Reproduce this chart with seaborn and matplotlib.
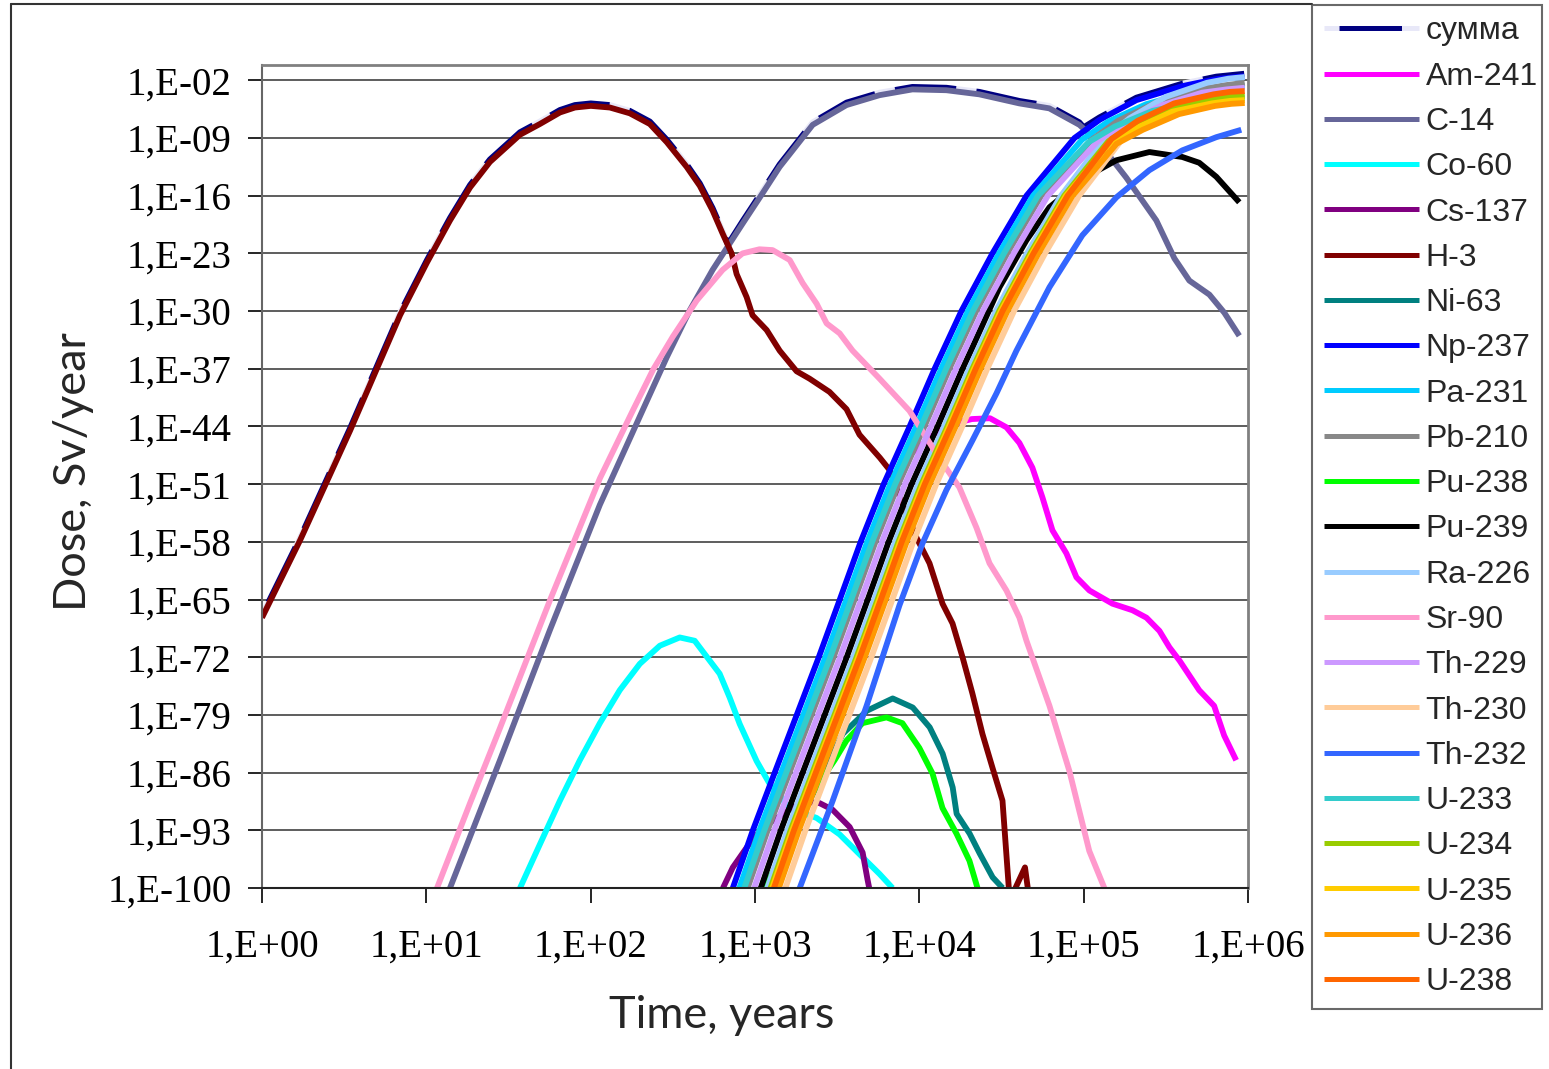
import numpy as np
import pandas as pd
import matplotlib

matplotlib.use("Agg")
import matplotlib.pyplot as plt
import seaborn as sns
from matplotlib.lines import Line2D
from matplotlib.ticker import FixedLocator, FuncFormatter, NullLocator

# values, as log10(time, years) and log10(dose, Sv/year)
sum_lt = [0.0, 0.232, 0.536, 0.84, 1.004, 1.144, 1.266, 1.387, 1.57, 1.691, 1.813, 1.904, 2.001, 2.117,
          2.238, 2.36, 2.463, 2.584, 2.664, 2.742, 2.803, 2.835, 2.924, 3.046, 3.15, 3.229, 3.351, 3.557,
          3.758, 3.958, 4.165, 4.365, 4.609, 4.791, 4.974, 5.0, 5.096, 5.321, 5.601, 5.807, 5.977]
sum_ld = [-66.9, -57.5, -44.2, -30.2, -23.8, -18.7, -14.7, -11.6, -8.3, -7.0, -5.6, -5.0, -4.8, -5.0,
          -5.7, -7.0, -9.2, -12.2, -14.5, -17.5, -20.3, -21.9, -19.1, -15.4, -12.2, -10.2, -7.1, -4.7,
          -3.5, -2.8, -2.9, -3.4, -4.5, -5.1, -7.1, -7.7, -6.5, -4.1, -2.4, -1.55, -1.2]

am241_lt = [2.915, 3.037, 3.17, 3.304, 3.438, 3.566, 3.693, 3.833, 3.95, 4.1, 4.22, 4.32, 4.43, 4.53,
            4.609, 4.688, 4.749, 4.81, 4.895, 4.956, 5.035, 5.175, 5.297, 5.382, 5.461, 5.522, 5.583,
            5.703, 5.794, 5.855, 5.928]
am241_ld = [-100, -93, -86, -79, -72, -65, -58, -51, -47.3, -44.8, -43.6, -43.1, -43.0, -44.1,
            -46.0, -49.0, -52.6, -56.6, -59.4, -62.3, -63.9, -65.5, -66.3, -67.2, -68.8, -70.8, -72.4,
            -76.0, -77.9, -81.5, -84.5]

c14_lt = [1.144, 1.448, 1.752, 2.056, 2.317, 2.463, 2.603, 2.742, 2.846, 2.924, 3.046, 3.15, 3.229,
          3.351, 3.557, 3.758, 3.958, 4.165, 4.365, 4.609, 4.791, 4.974, 5.095, 5.259, 5.442, 5.552,
          5.643, 5.765, 5.856, 5.947]
c14_ld = [-100, -84.5, -68.7, -53.5, -42.0, -35.6, -29.9, -25.0, -21.8, -19.4, -15.7, -12.5, -10.5,
          -7.4, -5.0, -3.8, -3.1, -3.2, -3.7, -4.8, -5.4, -7.4, -9.6, -13.8, -19.0, -23.6,
          -26.3, -28.0, -30.2, -33.0]

co60_lt = [1.57, 1.691, 1.813, 1.934, 2.056, 2.177, 2.299, 2.421, 2.542, 2.633, 2.724, 2.785, 2.846,
           2.907, 3.01, 3.09, 3.211, 3.375, 3.515, 3.636, 3.758, 3.837]
co60_ld = [-100, -94.7, -89.4, -84.5, -80.0, -76.0, -72.8, -70.6, -69.6, -70.0, -72.4, -74.0, -76.9,
           -80.1, -84.6, -87.4, -90.3, -91.5, -93.5, -95.9, -98.3, -100]

cs137_lt = [2.805, 2.865, 2.949, 3.046, 3.229, 3.332, 3.393, 3.472, 3.576, 3.655, 3.685, 3.70]
cs137_ld = [-100, -97.5, -95.1, -92.7, -90.2, -89.6, -89.7, -90.5, -92.6, -95.7, -99.0, -100.5]

h3_lt = [0.0, 0.232, 0.536, 0.84, 1.004, 1.144, 1.266, 1.387, 1.57, 1.691, 1.813, 1.904, 2.001, 2.117,
         2.238, 2.36, 2.463, 2.584, 2.664, 2.742, 2.803, 2.858, 2.888, 2.949, 2.985, 3.071, 3.15, 3.253,
         3.332, 3.453, 3.557, 3.636, 3.76, 3.82, 3.9, 3.983, 4.062, 4.141, 4.202, 4.263, 4.323, 4.384,
         4.445, 4.506, 4.55, 4.643, 4.67]
h3_ld = [-67.2, -57.8, -44.5, -30.5, -24.1, -19.0, -15.0, -11.9, -8.6, -7.3, -5.9, -5.3, -5.1, -5.3,
         -6.0, -7.3, -9.5, -12.5, -14.8, -17.8, -20.6, -23.0, -25.5, -28.3, -30.5, -32.3, -34.8, -37.3,
         -38.2, -39.8, -41.9, -45.0, -47.8, -49.3, -53.5, -57.5, -60.6, -65.5, -67.9, -72.0, -76.4, -81.3,
         -85.4, -89.4, -101.5, -97.5, -101.5]

ni63_lt = [3.09, 3.272, 3.424, 3.534, 3.68, 3.838, 3.96, 4.063, 4.142, 4.203, 4.227, 4.306, 4.367,
           4.446, 4.507]
ni63_ld = [-100, -91.8, -85.7, -81.3, -78.5, -77.0, -78.1, -80.5, -83.7, -87.8, -91.0, -93.4, -95.8,
           -98.7, -100]

pu238_lt = [3.058, 3.21, 3.362, 3.484, 3.557, 3.654, 3.8, 3.897, 4.0, 4.08, 4.141, 4.226, 4.305, 4.354]
pu238_ld = [-100, -94.2, -88.1, -84.5, -82.1, -80.0, -79.3, -80.0, -83.0, -86.1, -90.3, -93.4, -96.7, -100]

sr90_lt = [1.065, 1.266, 1.448, 1.752, 2.056, 2.258, 2.38, 2.5, 2.646, 2.803, 2.924, 3.027, 3.107,
           3.211, 3.29, 3.375, 3.436, 3.515, 3.594, 3.758, 3.94, 4.123, 4.244, 4.348, 4.427, 4.53,
           4.609, 4.652, 4.792, 4.913, 5.034, 5.126]
sr90_ld = [-100, -89.7, -80.6, -65.1, -50.3, -42.0, -37.1, -33.1, -28.7, -25.0, -23.0, -22.5, -22.6,
           -23.8, -26.6, -29.1, -31.5, -32.7, -34.8, -38.2, -42.1, -47.9, -51.4, -56.3, -60.6, -63.9,
           -67.2, -70.0, -77.9, -85.8, -95.5, -100]

pu239_lt = [3.035, 3.157, 3.29, 3.424, 3.558, 3.686, 3.813, 3.953, 4.111, 4.263, 4.323, 4.488, 4.652,
            4.792, 4.895, 5.053, 5.199, 5.4, 5.6, 5.703, 5.807, 5.947]
pu239_ld = [-100, -93, -86, -79, -72, -65, -58, -51, -44, -37, -34.4, -27.1, -21.4,
            -17.4, -15.7, -13.3, -11.7, -10.7, -11.3, -12.0, -13.7, -16.8]

th232_lt = [3.272, 3.473, 3.679, 3.879, 4.019, 4.165, 4.323, 4.469, 4.591, 4.792, 4.992, 5.199, 5.4,
            5.6, 5.807, 5.959]
th232_ld = [-100, -89.4, -77.9, -65.7, -58.2, -51.7, -45.7, -40.0, -34.8, -27.1, -20.8, -16.2, -12.9,
            -10.5, -8.9, -8.0]

# the actinide band: shared dose levels on the rising part, own levels near the top
band_ld = [-100, -93, -86, -79, -72, -65, -58, -51, -44, -37, -30, -23, -16]
np237_lt = [2.865, 2.987, 3.120, 3.254, 3.388, 3.516, 3.643, 3.783, 3.941, 4.093, 4.256, 4.445, 4.652,
            4.944, 5.096, 5.321, 5.601, 5.807, 5.977]
np237_top = [-9, -6.8, -4.4, -2.7, -1.85, -1.5]
pa231_lt = [2.905, 3.027, 3.160, 3.294, 3.428, 3.556, 3.683, 3.823, 3.981, 4.133, 4.296, 4.485, 4.692,
            4.99, 5.15, 5.38, 5.65, 5.84, 5.98]
pa231_top = [-9.2, -7.0, -4.9, -3.4, -2.9, -2.7]
pb210_lt = [2.955, 3.077, 3.21, 3.344, 3.478, 3.606, 3.733, 3.873, 4.031, 4.183, 4.346, 4.535, 4.742,
            5.05, 5.21, 5.44, 5.70, 5.86, 5.98]
pb210_top = [-9.2, -6.9, -4.7, -3.1, -2.6, -2.3]
ra226_lt = [3.075, 3.197, 3.33, 3.464, 3.598, 3.726, 3.853, 3.993, 4.151, 4.303, 4.466, 4.655, 4.862,
            5.13, 5.28, 5.5, 5.75, 5.88, 5.98]
ra226_top = [-9.0, -6.6, -4.0, -2.3, -1.8, -1.6]
th229_lt = [2.995, 3.117, 3.25, 3.384, 3.518, 3.646, 3.773, 3.913, 4.071, 4.223, 4.386, 4.575, 4.782,
            5.09, 5.25, 5.48, 5.72, 5.87, 5.98]
th229_top = [-9.3, -7.2, -5.0, -3.5, -3.1, -2.9]
th230_lt = [3.185, 3.307, 3.44, 3.574, 3.708, 3.836, 3.963, 4.103, 4.261, 4.413, 4.576, 4.765, 4.972,
            5.24, 5.4, 5.62, 5.83, 5.92, 5.98]
th230_top = [-9.0, -7.0, -4.9, -4.0, -3.8, -3.7]
u233_lt = [2.935, 3.057, 3.19, 3.324, 3.458, 3.586, 3.713, 3.853, 4.011, 4.163, 4.326, 4.515, 4.722,
           5.03, 5.19, 5.42, 5.68, 5.85, 5.98]
u233_top = [-9.5, -7.6, -5.7, -4.6, -4.3, -4.15]
u234_lt = [3.095, 3.217, 3.35, 3.484, 3.618, 3.746, 3.873, 4.013, 4.171, 4.323, 4.486, 4.675, 4.882,
           5.15, 5.31, 5.53, 5.77, 5.88, 5.98]
u234_top = [-9.4, -7.4, -5.4, -4.3, -4.0, -3.9]
u235_lt = [3.105, 3.227, 3.36, 3.494, 3.628, 3.756, 3.883, 4.023, 4.181, 4.333, 4.496, 4.685, 4.892,
           5.16, 5.32, 5.54, 5.78, 5.89, 5.98]
u235_top = [-9.6, -7.8, -5.8, -4.8, -4.5, -4.4]
u236_lt = [3.145, 3.267, 3.4, 3.534, 3.668, 3.796, 3.923, 4.063, 4.221, 4.373, 4.536, 4.725, 4.932,
           5.2, 5.36, 5.58, 5.8, 5.9, 5.98]
u236_top = [-9.7, -8.0, -6.1, -5.1, -4.85, -4.75]
u238_lt = [3.115, 3.237, 3.37, 3.504, 3.638, 3.766, 3.893, 4.033, 4.191, 4.343, 4.506, 4.695, 4.902,
           5.17, 5.33, 5.55, 5.79, 5.89, 5.98]
u238_top = [-9.1, -6.9, -4.8, -3.7, -3.4, -3.3]

series = [
    ("сумма", sum_lt, sum_ld, "#000080"),
    ("Am-241", am241_lt, am241_ld, "#FF00FF"),
    ("C-14", c14_lt, c14_ld, "#666699"),
    ("Co-60", co60_lt, co60_ld, "#00FFFF"),
    ("Cs-137", cs137_lt, cs137_ld, "#800080"),
    ("H-3", h3_lt, h3_ld, "#800000"),
    ("Ni-63", ni63_lt, ni63_ld, "#008080"),
    ("Np-237", np237_lt, band_ld + np237_top, "#0000FF"),
    ("Pa-231", pa231_lt, band_ld + pa231_top, "#00CCFF"),
    ("Pb-210", pb210_lt, band_ld + pb210_top, "#888888"),
    ("Pu-238", pu238_lt, pu238_ld, "#00FF00"),
    ("Pu-239", pu239_lt, pu239_ld, "#000000"),
    ("Ra-226", ra226_lt, band_ld + ra226_top, "#99CCFF"),
    ("Sr-90", sr90_lt, sr90_ld, "#FF99CC"),
    ("Th-229", th229_lt, band_ld + th229_top, "#CC99FF"),
    ("Th-230", th230_lt, band_ld + th230_top, "#FFCC99"),
    ("Th-232", th232_lt, th232_ld, "#3366FF"),
    ("U-233", u233_lt, band_ld + u233_top, "#33CCCC"),
    ("U-234", u234_lt, band_ld + u234_top, "#99CC00"),
    ("U-235", u235_lt, band_ld + u235_top, "#FFCC00"),
    ("U-236", u236_lt, band_ld + u236_top, "#FF9900"),
    ("U-238", u238_lt, band_ld + u238_top, "#FF6600"),
]

y_tick_exp = list(range(-2, -101, -7))
x_tick_exp = [0, 1, 2, 3, 4, 5, 6]

frames = []
for name, lt, ld, _ in series:
    frames.append(pd.DataFrame({
        "series": name,
        "time": 10.0 ** np.asarray(lt, dtype=float),
        "dose": 10.0 ** np.asarray(ld, dtype=float),
    }))
df = pd.concat(frames, ignore_index=True)
names = [s[0] for s in series]
palette = {s[0]: s[3] for s in series}

sns.set_theme(style="white")
plt.rcParams["font.family"] = ["Liberation Serif", "DejaVu Serif"]

W, H = 1549, 1069
fig = plt.figure(figsize=(W / 100, H / 100), dpi=100)
ax = fig.add_axes([262 / W, 1 - 888 / H, (1248 - 262) / W, (888 - 65) / H])

lw = 4.2
sum_dash = (11.5, (10.5, 3.5))
sns.lineplot(data=df[df["series"] == "сумма"], x="time", y="dose", color="#000080",
             estimator=None, sort=False, linewidth=lw, legend=False, ax=ax)
sum_line = ax.lines[-1]
sum_line.set_linestyle(sum_dash)
sum_line.set_gapcolor("#E8E8F8")
sns.lineplot(data=df[df["series"] != "сумма"], x="time", y="dose", hue="series",
             hue_order=names[1:], palette=palette, estimator=None, sort=False,
             linewidth=lw, legend=False, ax=ax)
for ln in ax.lines:
    ln.set_solid_capstyle("butt")
    ln.set_solid_joinstyle("round")

ax.set_xscale("log")
ax.set_yscale("log")
ax.set_xlim(1, 1e6)
ax.set_ylim(1e-100, 10 ** -0.14)
ax.xaxis.set_major_locator(FixedLocator([10.0 ** e for e in x_tick_exp]))
ax.yaxis.set_major_locator(FixedLocator([10.0 ** e for e in y_tick_exp]))
ax.xaxis.set_minor_locator(NullLocator())
ax.yaxis.set_minor_locator(NullLocator())
fmt = FuncFormatter(lambda v, p: "1,E{:+03d}".format(int(round(np.log10(v)))))
ax.xaxis.set_major_formatter(fmt)
ax.yaxis.set_major_formatter(fmt)
ax.tick_params(axis="both", which="major", direction="out", labelsize=28, colors="black",
               width=1.2, bottom=True, left=True)
ax.tick_params(axis="x", length=11, pad=18)
ax.tick_params(axis="y", length=10, pad=12)
ax.grid(True, axis="y", color="#505050", linewidth=1.3)
ax.grid(False, axis="x")
ax.set_xlabel("")
ax.set_ylabel("")
for side in ["top", "right"]:
    ax.spines[side].set_color("#808080")
    ax.spines[side].set_linewidth(2)
ax.spines["left"].set_color("#666666")
ax.spines["left"].set_linewidth(1.5)
ax.spines["bottom"].set_color("#222222")
ax.spines["bottom"].set_linewidth(1.5)

label_font = ["Lato", "DejaVu Sans"]
fig.text(722 / W, 1 - 1016 / H, "Time, years", ha="center", va="center", fontsize=32.5,
         family=label_font)
fig.text(73 / W, 1 - 472 / H, "Dose, Sv/year", ha="center", va="center", rotation=90,
         fontsize=32.5, family=label_font)

# outer chart frame (left and top edges)
fig.add_artist(Line2D([11 / W, 11 / W], [0, 1 - 4 / H], transform=fig.transFigure,
                      color="#333333", linewidth=1.5))
fig.add_artist(Line2D([11 / W, 1312 / W], [1 - 4 / H, 1 - 4 / H], transform=fig.transFigure,
                      color="#333333", linewidth=1.5))

handles = []
for name, _, _, color in series:
    h = Line2D([], [], color=color, linewidth=3.6, solid_capstyle="butt")
    if name == "сумма":
        h.set_linestyle((13.6, (12.5, 4.1)))
        h.set_gapcolor("#E8E8F8")
    handles.append(h)
leg = fig.legend(handles, names, loc="upper left",
                 bbox_to_anchor=(1312 / W, 1 - 5 / H, (1542 - 1312) / W, 0.0),
                 bbox_transform=fig.transFigure, mode="expand", borderaxespad=0,
                 prop={"family": ["Liberation Sans", "DejaVu Sans"], "size": 23},
                 handlelength=3.0, handletextpad=0.2, labelspacing=0.478, borderpad=0.36,
                 frameon=True, fancybox=False)
leg.get_frame().set_edgecolor("#444444")
leg.get_frame().set_linewidth(1.5)

fig.savefig("out.png", dpi=100, facecolor="white")
